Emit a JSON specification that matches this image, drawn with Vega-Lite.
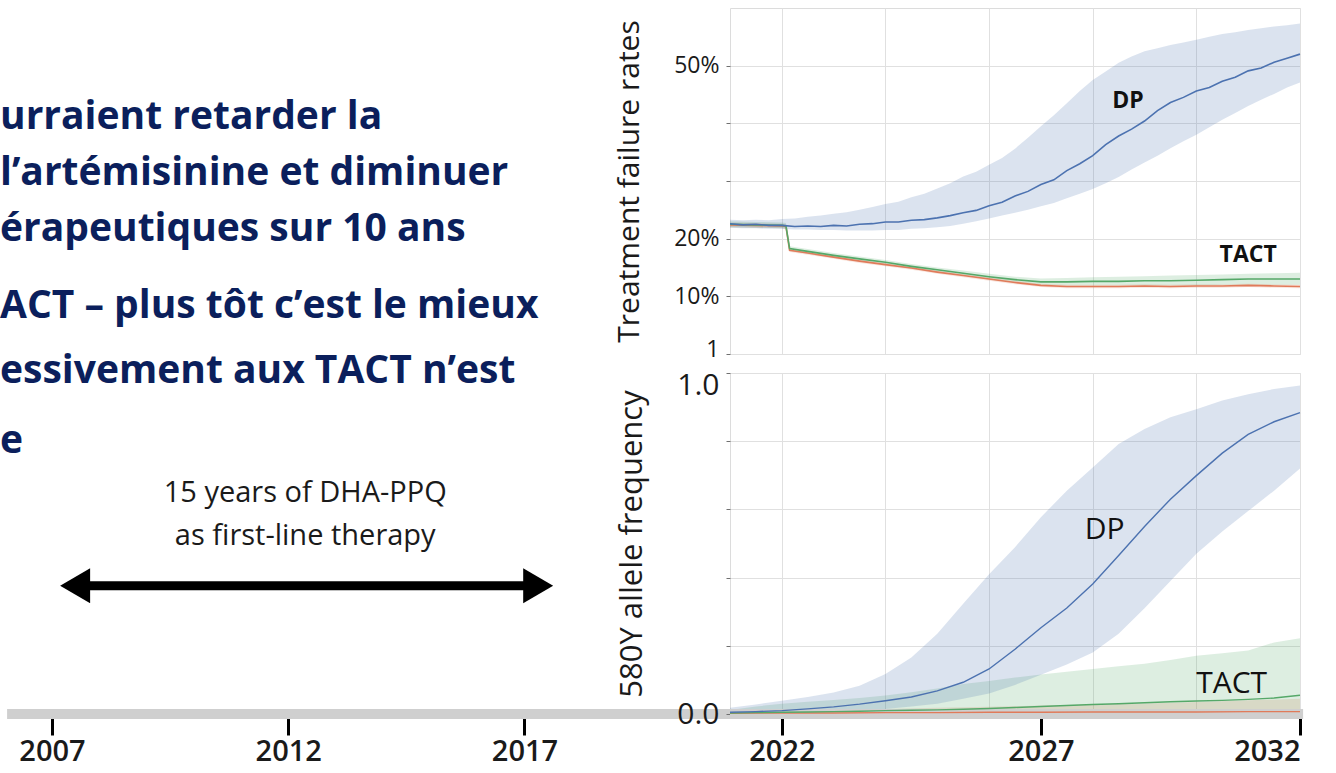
{
  "$schema": "https://vega.github.io/schema/vega-lite/v6.json",
  "padding": {"left": 0, "top": 7, "right": 5, "bottom": 5},
  "background": "white",
  "config": {
    "view": {"stroke": null},
    "axis": {"labelFont": "Open Sans", "titleFont": "Open Sans", "labelColor": "#1a1a1a", "titleColor": "#1a1a1a", "titleFontWeight": "normal", "gridColor": "#e0e0e0", "tickColor": "#707070", "domain": false},
    "text": {"font": "Open Sans"}
  },
  "datasets": {
    "failure": [
      {"series": "TACT-2", "year": 2021, "mid": 22.4, "lo": 22.0, "hi": 22.8},
      {"series": "TACT-2", "year": 2021.5, "mid": 22.3, "lo": 21.9, "hi": 22.7},
      {"series": "TACT-2", "year": 2022, "mid": 22.2, "lo": 21.8, "hi": 22.6},
      {"series": "TACT-2", "year": 2022.08, "mid": 22.1, "lo": 21.7, "hi": 22.5},
      {"series": "TACT-2", "year": 2022.15, "mid": 18.0, "lo": 17.7, "hi": 18.3},
      {"series": "TACT-2", "year": 2022.5, "mid": 17.5, "lo": 17.2, "hi": 17.8},
      {"series": "TACT-2", "year": 2023, "mid": 16.8, "lo": 16.5, "hi": 17.1},
      {"series": "TACT-2", "year": 2023.5, "mid": 16.1, "lo": 15.8, "hi": 16.4},
      {"series": "TACT-2", "year": 2024, "mid": 15.5, "lo": 15.2, "hi": 15.8},
      {"series": "TACT-2", "year": 2024.5, "mid": 14.9, "lo": 14.6, "hi": 15.2},
      {"series": "TACT-2", "year": 2025, "mid": 14.2, "lo": 13.9, "hi": 14.5},
      {"series": "TACT-2", "year": 2025.5, "mid": 13.6, "lo": 13.3, "hi": 13.9},
      {"series": "TACT-2", "year": 2026, "mid": 13.0, "lo": 12.7, "hi": 13.3},
      {"series": "TACT-2", "year": 2026.5, "mid": 12.4, "lo": 12.1, "hi": 12.7},
      {"series": "TACT-2", "year": 2027, "mid": 11.9, "lo": 11.6, "hi": 12.2},
      {"series": "TACT-2", "year": 2027.5, "mid": 11.7, "lo": 11.4, "hi": 12.0},
      {"series": "TACT-2", "year": 2028, "mid": 11.7, "lo": 11.4, "hi": 12.0},
      {"series": "TACT-2", "year": 2028.5, "mid": 11.7, "lo": 11.4, "hi": 12.0},
      {"series": "TACT-2", "year": 2029, "mid": 11.8, "lo": 11.5, "hi": 12.1},
      {"series": "TACT-2", "year": 2029.5, "mid": 11.7, "lo": 11.4, "hi": 12.0},
      {"series": "TACT-2", "year": 2030, "mid": 11.8, "lo": 11.5, "hi": 12.1},
      {"series": "TACT-2", "year": 2030.5, "mid": 11.8, "lo": 11.5, "hi": 12.1},
      {"series": "TACT-2", "year": 2031, "mid": 11.9, "lo": 11.6, "hi": 12.2},
      {"series": "TACT-2", "year": 2031.5, "mid": 11.8, "lo": 11.5, "hi": 12.1},
      {"series": "TACT-2", "year": 2032, "mid": 11.7, "lo": 11.4, "hi": 12.0},
      {"series": "TACT", "year": 2021, "mid": 22.5, "lo": 22.0, "hi": 23.0},
      {"series": "TACT", "year": 2021.5, "mid": 22.4, "lo": 21.9, "hi": 22.9},
      {"series": "TACT", "year": 2022, "mid": 22.3, "lo": 21.8, "hi": 22.8},
      {"series": "TACT", "year": 2022.08, "mid": 22.2, "lo": 21.7, "hi": 22.7},
      {"series": "TACT", "year": 2022.15, "mid": 18.3, "lo": 17.9, "hi": 18.7},
      {"series": "TACT", "year": 2022.5, "mid": 17.8, "lo": 17.4, "hi": 18.2},
      {"series": "TACT", "year": 2023, "mid": 17.1, "lo": 16.7, "hi": 17.5},
      {"series": "TACT", "year": 2023.5, "mid": 16.5, "lo": 16.1, "hi": 16.9},
      {"series": "TACT", "year": 2024, "mid": 15.9, "lo": 15.5, "hi": 16.3},
      {"series": "TACT", "year": 2024.5, "mid": 15.2, "lo": 14.8, "hi": 15.6},
      {"series": "TACT", "year": 2025, "mid": 14.6, "lo": 14.2, "hi": 15.0},
      {"series": "TACT", "year": 2025.5, "mid": 14.0, "lo": 13.6, "hi": 14.5},
      {"series": "TACT", "year": 2026, "mid": 13.4, "lo": 12.9, "hi": 13.9},
      {"series": "TACT", "year": 2026.5, "mid": 12.9, "lo": 12.4, "hi": 13.4},
      {"series": "TACT", "year": 2027, "mid": 12.5, "lo": 12.0, "hi": 13.1},
      {"series": "TACT", "year": 2027.5, "mid": 12.5, "lo": 11.9, "hi": 13.2},
      {"series": "TACT", "year": 2028, "mid": 12.6, "lo": 11.9, "hi": 13.3},
      {"series": "TACT", "year": 2028.5, "mid": 12.6, "lo": 11.9, "hi": 13.4},
      {"series": "TACT", "year": 2029, "mid": 12.7, "lo": 11.9, "hi": 13.5},
      {"series": "TACT", "year": 2029.5, "mid": 12.7, "lo": 11.9, "hi": 13.6},
      {"series": "TACT", "year": 2030, "mid": 12.8, "lo": 11.9, "hi": 13.7},
      {"series": "TACT", "year": 2030.5, "mid": 12.9, "lo": 12.0, "hi": 13.8},
      {"series": "TACT", "year": 2031, "mid": 13.0, "lo": 12.0, "hi": 13.9},
      {"series": "TACT", "year": 2031.5, "mid": 13.0, "lo": 12.0, "hi": 14.0},
      {"series": "TACT", "year": 2032, "mid": 13.0, "lo": 12.0, "hi": 14.1},
      {"series": "DP", "year": 2021, "mid": 22.6, "lo": 21.9, "hi": 23.3},
      {"series": "DP", "year": 2021.25, "mid": 22.4, "lo": 21.8, "hi": 23.2},
      {"series": "DP", "year": 2021.5, "mid": 22.5, "lo": 21.8, "hi": 23.3},
      {"series": "DP", "year": 2021.75, "mid": 22.3, "lo": 21.7, "hi": 23.2},
      {"series": "DP", "year": 2022, "mid": 22.3, "lo": 21.7, "hi": 23.4},
      {"series": "DP", "year": 2022.25, "mid": 22.1, "lo": 21.6, "hi": 23.5},
      {"series": "DP", "year": 2022.5, "mid": 22.2, "lo": 21.6, "hi": 23.8},
      {"series": "DP", "year": 2022.75, "mid": 22.1, "lo": 21.5, "hi": 24.0},
      {"series": "DP", "year": 2023, "mid": 22.3, "lo": 21.5, "hi": 24.3},
      {"series": "DP", "year": 2023.25, "mid": 22.2, "lo": 21.4, "hi": 24.6},
      {"series": "DP", "year": 2023.5, "mid": 22.5, "lo": 21.4, "hi": 25.0},
      {"series": "DP", "year": 2023.75, "mid": 22.6, "lo": 21.4, "hi": 25.5},
      {"series": "DP", "year": 2024, "mid": 22.9, "lo": 21.5, "hi": 26.0},
      {"series": "DP", "year": 2024.25, "mid": 22.9, "lo": 21.5, "hi": 26.4},
      {"series": "DP", "year": 2024.5, "mid": 23.2, "lo": 21.7, "hi": 27.2},
      {"series": "DP", "year": 2024.75, "mid": 23.3, "lo": 21.8, "hi": 27.8},
      {"series": "DP", "year": 2025, "mid": 23.6, "lo": 22.0, "hi": 28.7},
      {"series": "DP", "year": 2025.25, "mid": 24.0, "lo": 22.2, "hi": 29.6},
      {"series": "DP", "year": 2025.5, "mid": 24.5, "lo": 22.6, "hi": 30.8},
      {"series": "DP", "year": 2025.75, "mid": 24.9, "lo": 23.0, "hi": 31.6},
      {"series": "DP", "year": 2026, "mid": 25.7, "lo": 23.5, "hi": 32.8},
      {"series": "DP", "year": 2026.25, "mid": 26.3, "lo": 24.0, "hi": 34.0},
      {"series": "DP", "year": 2026.5, "mid": 27.4, "lo": 24.5, "hi": 35.6},
      {"series": "DP", "year": 2026.75, "mid": 28.2, "lo": 25.0, "hi": 37.5},
      {"series": "DP", "year": 2027, "mid": 29.4, "lo": 25.6, "hi": 39.5},
      {"series": "DP", "year": 2027.25, "mid": 30.2, "lo": 26.2, "hi": 41.4},
      {"series": "DP", "year": 2027.5, "mid": 31.8, "lo": 27.0, "hi": 43.5},
      {"series": "DP", "year": 2027.75, "mid": 33.0, "lo": 27.8, "hi": 45.6},
      {"series": "DP", "year": 2028, "mid": 34.4, "lo": 28.6, "hi": 47.5},
      {"series": "DP", "year": 2028.25, "mid": 36.3, "lo": 29.6, "hi": 49.0},
      {"series": "DP", "year": 2028.5, "mid": 37.8, "lo": 30.7, "hi": 50.5},
      {"series": "DP", "year": 2028.75, "mid": 39.0, "lo": 32.0, "hi": 51.6},
      {"series": "DP", "year": 2029, "mid": 40.4, "lo": 33.2, "hi": 52.5},
      {"series": "DP", "year": 2029.25, "mid": 42.2, "lo": 34.4, "hi": 53.0},
      {"series": "DP", "year": 2029.5, "mid": 43.6, "lo": 35.7, "hi": 53.6},
      {"series": "DP", "year": 2029.75, "mid": 44.5, "lo": 36.9, "hi": 54.0},
      {"series": "DP", "year": 2030, "mid": 45.6, "lo": 38.0, "hi": 54.5},
      {"series": "DP", "year": 2030.25, "mid": 46.2, "lo": 39.3, "hi": 55.0},
      {"series": "DP", "year": 2030.5, "mid": 47.3, "lo": 40.6, "hi": 55.5},
      {"series": "DP", "year": 2030.75, "mid": 48.0, "lo": 41.8, "hi": 55.8},
      {"series": "DP", "year": 2031, "mid": 49.1, "lo": 43.0, "hi": 56.2},
      {"series": "DP", "year": 2031.25, "mid": 49.6, "lo": 44.1, "hi": 56.5},
      {"series": "DP", "year": 2031.5, "mid": 50.6, "lo": 45.1, "hi": 56.8},
      {"series": "DP", "year": 2031.75, "mid": 51.3, "lo": 46.2, "hi": 57.0},
      {"series": "DP", "year": 2032, "mid": 52.0, "lo": 47.1, "hi": 57.3}
    ],
    "allele": [
      {"series": "TACT-2", "year": 2021, "mid": 0.002, "lo": 0.0, "hi": 0.008},
      {"series": "TACT-2", "year": 2022, "mid": 0.003, "lo": 0.0, "hi": 0.011},
      {"series": "TACT-2", "year": 2023, "mid": 0.003, "lo": 0.0, "hi": 0.013},
      {"series": "TACT-2", "year": 2024, "mid": 0.004, "lo": 0.0, "hi": 0.015},
      {"series": "TACT-2", "year": 2025, "mid": 0.004, "lo": 0.0, "hi": 0.018},
      {"series": "TACT-2", "year": 2026, "mid": 0.005, "lo": 0.0, "hi": 0.021},
      {"series": "TACT-2", "year": 2027, "mid": 0.005, "lo": 0.0, "hi": 0.025},
      {"series": "TACT-2", "year": 2028, "mid": 0.006, "lo": 0.0, "hi": 0.028},
      {"series": "TACT-2", "year": 2029, "mid": 0.006, "lo": 0.0, "hi": 0.031},
      {"series": "TACT-2", "year": 2030, "mid": 0.006, "lo": 0.0, "hi": 0.035},
      {"series": "TACT-2", "year": 2031, "mid": 0.007, "lo": 0.0, "hi": 0.040},
      {"series": "TACT-2", "year": 2032, "mid": 0.007, "lo": 0.0, "hi": 0.045},
      {"series": "TACT", "year": 2021, "mid": 0.003, "lo": 0.001, "hi": 0.012},
      {"series": "TACT", "year": 2021.5, "mid": 0.004, "lo": 0.001, "hi": 0.022},
      {"series": "TACT", "year": 2022, "mid": 0.005, "lo": 0.001, "hi": 0.030},
      {"series": "TACT", "year": 2022.5, "mid": 0.006, "lo": 0.001, "hi": 0.036},
      {"series": "TACT", "year": 2023, "mid": 0.007, "lo": 0.001, "hi": 0.041},
      {"series": "TACT", "year": 2023.5, "mid": 0.008, "lo": 0.001, "hi": 0.047},
      {"series": "TACT", "year": 2024, "mid": 0.010, "lo": 0.001, "hi": 0.054},
      {"series": "TACT", "year": 2024.5, "mid": 0.011, "lo": 0.001, "hi": 0.064},
      {"series": "TACT", "year": 2025, "mid": 0.012, "lo": 0.001, "hi": 0.075},
      {"series": "TACT", "year": 2025.5, "mid": 0.014, "lo": 0.001, "hi": 0.088},
      {"series": "TACT", "year": 2026, "mid": 0.016, "lo": 0.001, "hi": 0.097},
      {"series": "TACT", "year": 2026.5, "mid": 0.019, "lo": 0.001, "hi": 0.107},
      {"series": "TACT", "year": 2027, "mid": 0.022, "lo": 0.001, "hi": 0.116},
      {"series": "TACT", "year": 2027.5, "mid": 0.025, "lo": 0.001, "hi": 0.124},
      {"series": "TACT", "year": 2028, "mid": 0.028, "lo": 0.001, "hi": 0.132},
      {"series": "TACT", "year": 2028.5, "mid": 0.030, "lo": 0.002, "hi": 0.140},
      {"series": "TACT", "year": 2029, "mid": 0.033, "lo": 0.002, "hi": 0.147},
      {"series": "TACT", "year": 2029.5, "mid": 0.036, "lo": 0.002, "hi": 0.158},
      {"series": "TACT", "year": 2030, "mid": 0.038, "lo": 0.002, "hi": 0.171},
      {"series": "TACT", "year": 2030.5, "mid": 0.040, "lo": 0.002, "hi": 0.178},
      {"series": "TACT", "year": 2031, "mid": 0.043, "lo": 0.002, "hi": 0.186},
      {"series": "TACT", "year": 2031.5, "mid": 0.047, "lo": 0.002, "hi": 0.210},
      {"series": "TACT", "year": 2032, "mid": 0.055, "lo": 0.002, "hi": 0.222},
      {"series": "DP", "year": 2021, "mid": 0.005, "lo": 0.002, "hi": 0.018},
      {"series": "DP", "year": 2021.5, "mid": 0.007, "lo": 0.003, "hi": 0.028},
      {"series": "DP", "year": 2022, "mid": 0.010, "lo": 0.004, "hi": 0.039},
      {"series": "DP", "year": 2022.5, "mid": 0.015, "lo": 0.006, "hi": 0.050},
      {"series": "DP", "year": 2023, "mid": 0.021, "lo": 0.008, "hi": 0.063},
      {"series": "DP", "year": 2023.5, "mid": 0.029, "lo": 0.011, "hi": 0.083},
      {"series": "DP", "year": 2024, "mid": 0.039, "lo": 0.015, "hi": 0.117},
      {"series": "DP", "year": 2024.5, "mid": 0.050, "lo": 0.022, "hi": 0.166},
      {"series": "DP", "year": 2025, "mid": 0.068, "lo": 0.030, "hi": 0.235},
      {"series": "DP", "year": 2025.5, "mid": 0.093, "lo": 0.045, "hi": 0.323},
      {"series": "DP", "year": 2026, "mid": 0.132, "lo": 0.060, "hi": 0.410},
      {"series": "DP", "year": 2026.5, "mid": 0.190, "lo": 0.085, "hi": 0.489},
      {"series": "DP", "year": 2027, "mid": 0.253, "lo": 0.115, "hi": 0.577},
      {"series": "DP", "year": 2027.5, "mid": 0.311, "lo": 0.145, "hi": 0.655},
      {"series": "DP", "year": 2028, "mid": 0.381, "lo": 0.180, "hi": 0.723},
      {"series": "DP", "year": 2028.5, "mid": 0.465, "lo": 0.235, "hi": 0.792},
      {"series": "DP", "year": 2029, "mid": 0.550, "lo": 0.310, "hi": 0.836},
      {"series": "DP", "year": 2029.5, "mid": 0.630, "lo": 0.390, "hi": 0.870},
      {"series": "DP", "year": 2030, "mid": 0.699, "lo": 0.470, "hi": 0.894},
      {"series": "DP", "year": 2030.5, "mid": 0.765, "lo": 0.535, "hi": 0.919},
      {"series": "DP", "year": 2031, "mid": 0.820, "lo": 0.595, "hi": 0.938},
      {"series": "DP", "year": 2031.5, "mid": 0.857, "lo": 0.655, "hi": 0.953},
      {"series": "DP", "year": 2032, "mid": 0.884, "lo": 0.720, "hi": 0.963}
    ]
  },
  "columns": 2,
  "spacing": {"row": 19, "column": 0},
  "bounds": "flush",
  "resolve": {"scale": {"x": "independent", "y": "independent"}},
  "concat": [
    {
      "width": 730,
      "height": 346,
      "data": {"values": [{}]},
      "encoding": {
        "x": {"datum": 2005.9, "type": "quantitative", "scale": {"domain": [2005.9, 2021.35], "nice": false}, "axis": null}
      },
      "layer": [
        {"mark": {"type": "text", "align": "left", "baseline": "middle", "font": "Open Sans", "fontWeight": "bold", "fontSize": 39, "color": "#0b1f5c"},
         "encoding": {"y": {"datum": 68.4, "type": "quantitative", "scale": {"domain": [0, 100], "nice": false}, "axis": null}, "text": {"value": "urraient retarder la"}}},
        {"mark": {"type": "text", "align": "left", "baseline": "middle", "font": "Open Sans", "fontWeight": "bold", "fontSize": 39, "color": "#0b1f5c"},
         "encoding": {"y": {"datum": 52.4, "type": "quantitative", "scale": {"domain": [0, 100], "nice": false}, "axis": null}, "text": {"value": "l’artémisinine et diminuer"}}},
        {"mark": {"type": "text", "align": "left", "baseline": "middle", "font": "Open Sans", "fontWeight": "bold", "fontSize": 39, "color": "#0b1f5c"},
         "encoding": {"y": {"datum": 36.2, "type": "quantitative", "scale": {"domain": [0, 100], "nice": false}, "axis": null}, "text": {"value": "érapeutiques sur 10 ans"}}},
        {"mark": {"type": "text", "align": "left", "baseline": "middle", "font": "Open Sans", "fontWeight": "bold", "fontSize": 39, "color": "#0b1f5c"},
         "encoding": {"y": {"datum": 14.0, "type": "quantitative", "scale": {"domain": [0, 100], "nice": false}, "axis": null}, "text": {"value": "ACT – plus tôt c’est le mieux"}}},
        {"mark": {"type": "text", "align": "left", "baseline": "middle", "font": "Open Sans", "fontWeight": "bold", "fontSize": 39, "color": "#0b1f5c"},
         "encoding": {"y": {"datum": -4.8, "type": "quantitative", "scale": {"domain": [0, 100], "nice": false}, "axis": null}, "text": {"value": "essivement aux TACT n’est"}}}
      ]
    },
    {
      "width": 570,
      "height": 346,
      "view": {"stroke": "#dcdcdc"},
      "data": {"name": "failure"},
      "layer": [
        {
          "mark": {"type": "area", "opacity": 0.2},
          "encoding": {
            "x": {"field": "year", "type": "quantitative", "scale": {"domain": [2021, 2032], "nice": false},
                  "axis": {"values": [2022, 2024, 2026, 2028, 2030, 2032], "labels": false, "ticks": false, "title": null, "grid": true}},
            "y": {"field": "lo", "type": "quantitative", "scale": {"domain": [0, 60], "nice": false},
                  "axis": {"title": "Treatment failure rates", "values": [0, 10, 20, 30, 40, 50],
                           "labelExpr": "datum.value == 0 ? '1' : (datum.value == 10 || datum.value == 20 || datum.value == 50) ? datum.value + '%' : ''",
                           "labelOffset": {"condition": {"test": "datum.value == 0", "value": -5}, "value": 0},
                           "labelFontSize": 23, "titleFontSize": 30, "tickSize": 4, "labelPadding": 7, "titlePadding": 29, "grid": true}},
            "y2": {"field": "hi"},
            "color": {"field": "series", "type": "nominal", "scale": {"domain": ["DP", "TACT", "TACT-2"], "range": ["#4c72b0", "#55a868", "#e07b5a"]}, "legend": null}
          }
        },
        {
          "mark": {"type": "line", "strokeWidth": 1.6},
          "encoding": {
            "x": {"field": "year", "type": "quantitative", "scale": {"domain": [2021, 2032], "nice": false},
                  "axis": {"values": [2022, 2024, 2026, 2028, 2030, 2032], "labels": false, "ticks": false, "title": null, "grid": true}},
            "y": {"field": "mid", "type": "quantitative", "scale": {"domain": [0, 60], "nice": false},
                  "axis": {"title": "Treatment failure rates", "values": [0, 10, 20, 30, 40, 50],
                           "labelExpr": "datum.value == 0 ? '1' : (datum.value == 10 || datum.value == 20 || datum.value == 50) ? datum.value + '%' : ''",
                           "labelOffset": {"condition": {"test": "datum.value == 0", "value": -5}, "value": 0},
                           "labelFontSize": 23, "titleFontSize": 30, "tickSize": 4, "labelPadding": 7, "titlePadding": 29, "grid": true}},
            "color": {"field": "series", "type": "nominal", "scale": {"domain": ["DP", "TACT", "TACT-2"], "range": ["#4c72b0", "#55a868", "#e07b5a"]}, "legend": null}
          }
        },
        {
          "data": {"values": [{}]},
          "mark": {"type": "text", "align": "center", "baseline": "middle", "fontSize": 23, "fontWeight": "bold", "color": "#111111"},
          "encoding": {
            "x": {"datum": 2028.68, "type": "quantitative", "scale": {"domain": [2021, 2032], "nice": false},
                  "axis": {"values": [2022, 2024, 2026, 2028, 2030, 2032], "labels": false, "ticks": false, "title": null, "grid": true}},
            "y": {"datum": 43.9, "type": "quantitative", "scale": {"domain": [0, 60], "nice": false},
                  "axis": {"title": "Treatment failure rates", "values": [0, 10, 20, 30, 40, 50],
                           "labelExpr": "datum.value == 0 ? '1' : (datum.value == 10 || datum.value == 20 || datum.value == 50) ? datum.value + '%' : ''",
                           "labelOffset": {"condition": {"test": "datum.value == 0", "value": -5}, "value": 0},
                           "labelFontSize": 23, "titleFontSize": 30, "tickSize": 4, "labelPadding": 7, "titlePadding": 29, "grid": true}},
            "text": {"value": "DP"}
          }
        },
        {
          "data": {"values": [{}]},
          "mark": {"type": "text", "align": "center", "baseline": "middle", "fontSize": 23, "fontWeight": "bold", "color": "#111111"},
          "encoding": {
            "x": {"datum": 2031.0, "type": "quantitative", "scale": {"domain": [2021, 2032], "nice": false},
                  "axis": {"values": [2022, 2024, 2026, 2028, 2030, 2032], "labels": false, "ticks": false, "title": null, "grid": true}},
            "y": {"datum": 17.2, "type": "quantitative", "scale": {"domain": [0, 60], "nice": false},
                  "axis": {"title": "Treatment failure rates", "values": [0, 10, 20, 30, 40, 50],
                           "labelExpr": "datum.value == 0 ? '1' : (datum.value == 10 || datum.value == 20 || datum.value == 50) ? datum.value + '%' : ''",
                           "labelOffset": {"condition": {"test": "datum.value == 0", "value": -5}, "value": 0},
                           "labelFontSize": 23, "titleFontSize": 30, "tickSize": 4, "labelPadding": 7, "titlePadding": 29, "grid": true}},
            "text": {"value": "TACT"}
          }
        }
      ]
    },
    {
      "width": 730,
      "height": 341,
      "data": {"values": [{}]},
      "layer": [
        {"mark": {"type": "text", "align": "left", "baseline": "middle", "font": "Open Sans", "fontWeight": "bold", "fontSize": 39, "color": "#0b1f5c"},
         "encoding": {
           "x": {"datum": 2005.9, "type": "quantitative", "scale": {"domain": [2005.9, 2021.35], "nice": false},
                 "axis": {"values": [2007, 2012, 2017], "format": "d", "grid": false, "title": null, "tickSize": 21, "tickWidth": 3, "tickColor": "#000000", "labelFontSize": 29, "labelFontWeight": 600, "labelPadding": 2}},
           "y": {"datum": 80.1, "type": "quantitative", "scale": {"domain": [0, 100], "nice": false}, "axis": null},
           "text": {"value": "e"}}},
        {"mark": {"type": "text", "align": "center", "baseline": "middle", "fontSize": 29, "color": "#1a1a1a"},
         "encoding": {
           "x": {"datum": 2012.36, "type": "quantitative", "scale": {"domain": [2005.9, 2021.35], "nice": false},
                 "axis": {"values": [2007, 2012, 2017], "format": "d", "grid": false, "title": null, "tickSize": 21, "tickWidth": 3, "tickColor": "#000000", "labelFontSize": 29, "labelFontWeight": 600, "labelPadding": 2}},
           "y": {"datum": 64.9, "type": "quantitative", "scale": {"domain": [0, 100], "nice": false}, "axis": null},
           "text": {"value": "15 years of DHA-PPQ"}}},
        {"mark": {"type": "text", "align": "center", "baseline": "middle", "fontSize": 29, "color": "#1a1a1a"},
         "encoding": {
           "x": {"datum": 2012.36, "type": "quantitative", "scale": {"domain": [2005.9, 2021.35], "nice": false},
                 "axis": {"values": [2007, 2012, 2017], "format": "d", "grid": false, "title": null, "tickSize": 21, "tickWidth": 3, "tickColor": "#000000", "labelFontSize": 29, "labelFontWeight": 600, "labelPadding": 2}},
           "y": {"datum": 52.3, "type": "quantitative", "scale": {"domain": [0, 100], "nice": false}, "axis": null},
           "text": {"value": "as first-line therapy"}}},
        {"mark": {"type": "rule", "strokeWidth": 9, "color": "#000000"},
         "encoding": {
           "x": {"datum": 2007.49, "type": "quantitative", "scale": {"domain": [2005.9, 2021.35], "nice": false},
                 "axis": {"values": [2007, 2012, 2017], "format": "d", "grid": false, "title": null, "tickSize": 21, "tickWidth": 3, "tickColor": "#000000", "labelFontSize": 29, "labelFontWeight": 600, "labelPadding": 2}},
           "x2": {"datum": 2017.29},
           "y": {"datum": 37.6, "type": "quantitative", "scale": {"domain": [0, 100], "nice": false}, "axis": null}}},
        {"mark": {"type": "point", "shape": "M-1,0L1,-1.17L1,1.17Z", "size": 900, "filled": true, "opacity": 1, "color": "#000000"},
         "encoding": {
           "x": {"datum": 2007.49, "type": "quantitative", "scale": {"domain": [2005.9, 2021.35], "nice": false},
                 "axis": {"values": [2007, 2012, 2017], "format": "d", "grid": false, "title": null, "tickSize": 21, "tickWidth": 3, "tickColor": "#000000", "labelFontSize": 29, "labelFontWeight": 600, "labelPadding": 2}},
           "y": {"datum": 37.6, "type": "quantitative", "scale": {"domain": [0, 100], "nice": false}, "axis": null}}},
        {"mark": {"type": "point", "shape": "M1,0L-1,-1.17L-1,1.17Z", "size": 900, "filled": true, "opacity": 1, "color": "#000000"},
         "encoding": {
           "x": {"datum": 2017.29, "type": "quantitative", "scale": {"domain": [2005.9, 2021.35], "nice": false},
                 "axis": {"values": [2007, 2012, 2017], "format": "d", "grid": false, "title": null, "tickSize": 21, "tickWidth": 3, "tickColor": "#000000", "labelFontSize": 29, "labelFontWeight": 600, "labelPadding": 2}},
           "y": {"datum": 37.6, "type": "quantitative", "scale": {"domain": [0, 100], "nice": false}, "axis": null}}},
        {"mark": {"type": "rule", "strokeWidth": 10, "color": "#cfcfcf"},
         "encoding": {
           "x": {"datum": 2006.05, "type": "quantitative", "scale": {"domain": [2005.9, 2021.35], "nice": false},
                 "axis": {"values": [2007, 2012, 2017], "format": "d", "grid": false, "title": null, "tickSize": 21, "tickWidth": 3, "tickColor": "#000000", "labelFontSize": 29, "labelFontWeight": 600, "labelPadding": 2}},
           "x2": {"datum": 2021.35},
           "y": {"datum": 0, "type": "quantitative", "scale": {"domain": [0, 100], "nice": false}, "axis": null}}}
      ]
    },
    {
      "width": 570,
      "height": 341,
      "view": {"stroke": "#dcdcdc"},
      "data": {"name": "allele"},
      "layer": [
        {
          "mark": {"type": "area", "opacity": 0.2},
          "encoding": {
            "x": {"field": "year", "type": "quantitative", "scale": {"domain": [2021, 2032], "nice": false},
                  "axis": {"values": [2022, 2024, 2026, 2027, 2028, 2030, 2032], "format": "d", "title": null, "grid": true,
                           "labelExpr": "(datum.value == 2022 || datum.value == 2027 || datum.value == 2032) ? datum.label : ''",
                           "gridOpacity": {"condition": {"test": "datum.value == 2027", "value": 0}, "value": 1},
                           "tickOpacity": {"condition": {"test": "datum.value == 2022 || datum.value == 2027 || datum.value == 2032", "value": 1}, "value": 0},
                           "tickSize": 21, "tickWidth": 3, "tickColor": "#000000", "labelFontSize": 29, "labelFontWeight": 600, "labelPadding": 2}},
            "y": {"field": "lo", "type": "quantitative", "scale": {"domain": [0, 1], "nice": false},
                  "axis": {"title": "580Y allele frequency", "values": [0, 0.2, 0.4, 0.6, 0.8, 1],
                           "labelExpr": "datum.value == 0 ? '0.0' : datum.value == 1 ? '1.0' : ''",
                           "labelOffset": {"condition": {"test": "datum.value == 1", "value": 12}, "value": 0},
                           "labelFontSize": 30, "titleFontSize": 31, "tickSize": 4, "labelPadding": 7, "titlePadding": 28, "grid": true}},
            "y2": {"field": "hi"},
            "color": {"field": "series", "type": "nominal", "scale": {"domain": ["DP", "TACT", "TACT-2"], "range": ["#4c72b0", "#55a868", "#e07b5a"]}, "legend": null}
          }
        },
        {
          "data": {"values": [{}]},
          "mark": {"type": "rule", "strokeWidth": 10, "color": "#cfcfcf"},
          "encoding": {
            "x": {"datum": 2021, "type": "quantitative", "scale": {"domain": [2021, 2032], "nice": false},
                  "axis": {"values": [2022, 2024, 2026, 2027, 2028, 2030, 2032], "format": "d", "title": null, "grid": true,
                           "labelExpr": "(datum.value == 2022 || datum.value == 2027 || datum.value == 2032) ? datum.label : ''",
                           "gridOpacity": {"condition": {"test": "datum.value == 2027", "value": 0}, "value": 1},
                           "tickOpacity": {"condition": {"test": "datum.value == 2022 || datum.value == 2027 || datum.value == 2032", "value": 1}, "value": 0},
                           "tickSize": 21, "tickWidth": 3, "tickColor": "#000000", "labelFontSize": 29, "labelFontWeight": 600, "labelPadding": 2}},
            "x2": {"datum": 2032.06},
            "y": {"datum": 0, "type": "quantitative", "scale": {"domain": [0, 1], "nice": false},
                  "axis": {"title": "580Y allele frequency", "values": [0, 0.2, 0.4, 0.6, 0.8, 1],
                           "labelExpr": "datum.value == 0 ? '0.0' : datum.value == 1 ? '1.0' : ''",
                           "labelOffset": {"condition": {"test": "datum.value == 1", "value": 12}, "value": 0},
                           "labelFontSize": 30, "titleFontSize": 31, "tickSize": 4, "labelPadding": 7, "titlePadding": 28, "grid": true}}
          }
        },
        {
          "mark": {"type": "line", "strokeWidth": 1.4},
          "encoding": {
            "x": {"field": "year", "type": "quantitative", "scale": {"domain": [2021, 2032], "nice": false},
                  "axis": {"values": [2022, 2024, 2026, 2027, 2028, 2030, 2032], "format": "d", "title": null, "grid": true,
                           "labelExpr": "(datum.value == 2022 || datum.value == 2027 || datum.value == 2032) ? datum.label : ''",
                           "gridOpacity": {"condition": {"test": "datum.value == 2027", "value": 0}, "value": 1},
                           "tickOpacity": {"condition": {"test": "datum.value == 2022 || datum.value == 2027 || datum.value == 2032", "value": 1}, "value": 0},
                           "tickSize": 21, "tickWidth": 3, "tickColor": "#000000", "labelFontSize": 29, "labelFontWeight": 600, "labelPadding": 2}},
            "y": {"field": "mid", "type": "quantitative", "scale": {"domain": [0, 1], "nice": false},
                  "axis": {"title": "580Y allele frequency", "values": [0, 0.2, 0.4, 0.6, 0.8, 1],
                           "labelExpr": "datum.value == 0 ? '0.0' : datum.value == 1 ? '1.0' : ''",
                           "labelOffset": {"condition": {"test": "datum.value == 1", "value": 12}, "value": 0},
                           "labelFontSize": 30, "titleFontSize": 31, "tickSize": 4, "labelPadding": 7, "titlePadding": 28, "grid": true}},
            "color": {"field": "series", "type": "nominal", "scale": {"domain": ["DP", "TACT", "TACT-2"], "range": ["#4c72b0", "#55a868", "#e07b5a"]}, "legend": null}
          }
        },
        {
          "data": {"values": [{}]},
          "mark": {"type": "text", "align": "center", "baseline": "middle", "fontSize": 30, "color": "#111111"},
          "encoding": {
            "x": {"datum": 2028.23, "type": "quantitative", "scale": {"domain": [2021, 2032], "nice": false},
                  "axis": {"values": [2022, 2024, 2026, 2027, 2028, 2030, 2032], "format": "d", "title": null, "grid": true,
                           "labelExpr": "(datum.value == 2022 || datum.value == 2027 || datum.value == 2032) ? datum.label : ''",
                           "gridOpacity": {"condition": {"test": "datum.value == 2027", "value": 0}, "value": 1},
                           "tickOpacity": {"condition": {"test": "datum.value == 2022 || datum.value == 2027 || datum.value == 2032", "value": 1}, "value": 0},
                           "tickSize": 21, "tickWidth": 3, "tickColor": "#000000", "labelFontSize": 29, "labelFontWeight": 600, "labelPadding": 2}},
            "y": {"datum": 0.54, "type": "quantitative", "scale": {"domain": [0, 1], "nice": false},
                  "axis": {"title": "580Y allele frequency", "values": [0, 0.2, 0.4, 0.6, 0.8, 1],
                           "labelExpr": "datum.value == 0 ? '0.0' : datum.value == 1 ? '1.0' : ''",
                           "labelOffset": {"condition": {"test": "datum.value == 1", "value": 12}, "value": 0},
                           "labelFontSize": 30, "titleFontSize": 31, "tickSize": 4, "labelPadding": 7, "titlePadding": 28, "grid": true}},
            "text": {"value": "DP"}
          }
        },
        {
          "data": {"values": [{}]},
          "mark": {"type": "text", "align": "center", "baseline": "middle", "fontSize": 30, "color": "#111111"},
          "encoding": {
            "x": {"datum": 2030.68, "type": "quantitative", "scale": {"domain": [2021, 2032], "nice": false},
                  "axis": {"values": [2022, 2024, 2026, 2027, 2028, 2030, 2032], "format": "d", "title": null, "grid": true,
                           "labelExpr": "(datum.value == 2022 || datum.value == 2027 || datum.value == 2032) ? datum.label : ''",
                           "gridOpacity": {"condition": {"test": "datum.value == 2027", "value": 0}, "value": 1},
                           "tickOpacity": {"condition": {"test": "datum.value == 2022 || datum.value == 2027 || datum.value == 2032", "value": 1}, "value": 0},
                           "tickSize": 21, "tickWidth": 3, "tickColor": "#000000", "labelFontSize": 29, "labelFontWeight": 600, "labelPadding": 2}},
            "y": {"datum": 0.088, "type": "quantitative", "scale": {"domain": [0, 1], "nice": false},
                  "axis": {"title": "580Y allele frequency", "values": [0, 0.2, 0.4, 0.6, 0.8, 1],
                           "labelExpr": "datum.value == 0 ? '0.0' : datum.value == 1 ? '1.0' : ''",
                           "labelOffset": {"condition": {"test": "datum.value == 1", "value": 12}, "value": 0},
                           "labelFontSize": 30, "titleFontSize": 31, "tickSize": 4, "labelPadding": 7, "titlePadding": 28, "grid": true}},
            "text": {"value": "TACT"}
          }
        }
      ]
    }
  ]
}
